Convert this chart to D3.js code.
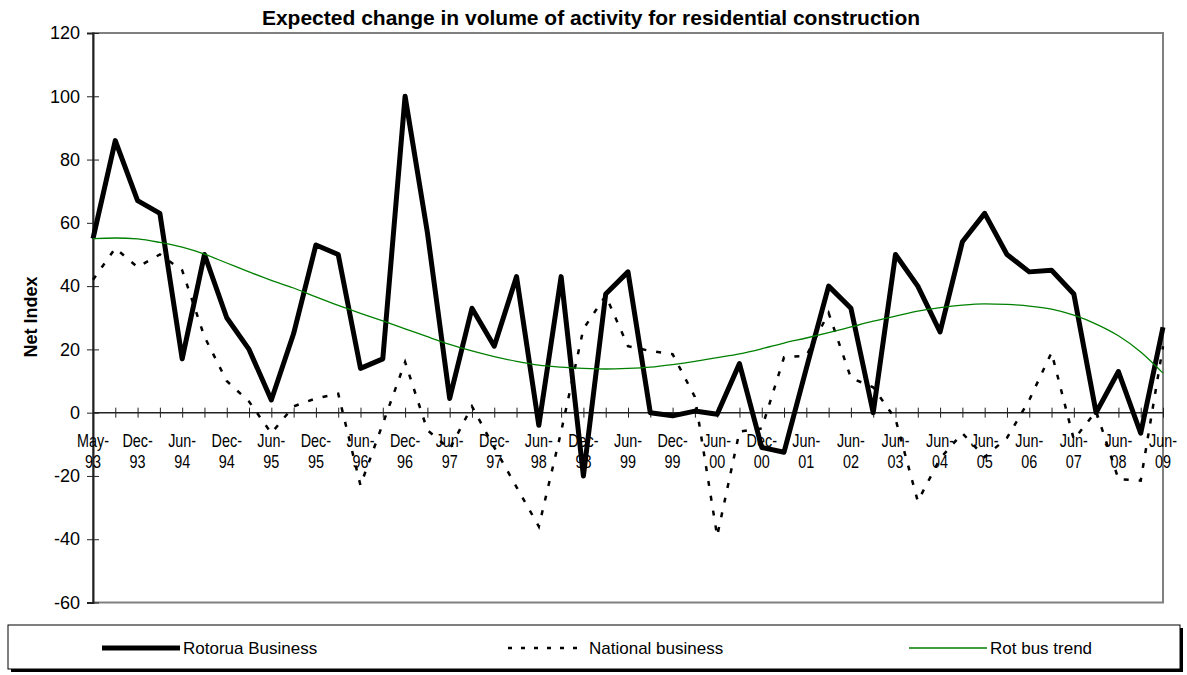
<!DOCTYPE html>
<html>
<head>
<meta charset="utf-8">
<script src="https://cdn.jsdelivr.net/npm/d3@7"></script>
<style>
body { margin: 0; background: #fff; }
svg { display: block; }
text { font-family: "Liberation Sans", Arial, sans-serif; fill: #000; }
</style>
</head>
<body>
<svg id="chart"></svg>
<script>
// survey dates (only every second one is labelled on the axis)
const categories = ["May-93","Sep-93","Dec-93","Mar-94","Jun-94","Sep-94","Dec-94","Mar-95","Jun-95","Sep-95",
  "Dec-95","Mar-96","Jun-96","Sep-96","Dec-96","Mar-97","Jun-97","Sep-97","Dec-97","Mar-98",
  "Jun-98","Sep-98","Dec-98","Mar-99","Jun-99","Sep-99","Dec-99","Mar-00","Jun-00","Sep-00",
  "Dec-00","Mar-01","Jun-01","Dec-01","Jun-02","Dec-02","Jun-03","Dec-03","Jun-04","Dec-04",
  "Jun-05","Dec-05","Jun-06","Dec-06","Jun-07","Dec-07","Jun-08","Dec-08","Jun-09"]

const rotorua = [55, 86, 67, 63, 17, 50, 30, 20, 4, 25,
  53, 50, 14, 17, 100, 57, 4.5, 33, 21, 43,
  -4, 43, -20, 37.5, 44.5, 0, -1, 0.5, -0.5, 15.5,
  -11, -12.5, 14, 40, 33, 0, 50, 40, 25.5, 54,
  63, 50, 44.5, 45, 37.5, 0, 13, -6.5, 27]

const national = [42, 52, 46, 50, 45, 24, 10, 3.5, -6.5, 2,
  4.5, 6, -23, -3.5, 16, -5.5, -11.5, 2, -11, -23.5,
  -36, -6, 26.5, 37, 21, 19.5, 18.5, 5, -39, -6,
  -5, 17.5, 18, 31.5, 11, 8, -2, -28, -14.5, -6.5,
  -14, -8, 4, 19, -8.5, 0.5, -21, -21.5, 21]

const trend = [55, 55.2, 54.9, 53.8, 52.3, 50.1, 47.3, 44.5, 41.8, 39.4,
  36.6, 33.9, 31.4, 29.0, 26.5, 24.0, 21.6, 19.5, 17.7, 16.2,
  15.0, 14.4, 14.0, 13.8, 14.0, 14.4, 15.2, 16.2, 17.4, 18.6,
  20.2, 22.0, 23.6, 25.3, 27.1, 28.9, 30.5, 32.1, 33.2, 34.0,
  34.4, 34.2, 33.7, 32.7, 30.8, 28.0, 24.3, 19.2, 12.5]

const yTicks = [-60, -40, -20, 0, 20, 40, 60, 80, 100, 120]
const seriesNames = ["Rotorua Business", "National business", "Rot bus trend"]

const width = 1187
const height = 675
const plotLeft = 93
const plotRight = 1163
const plotTop = 33
const plotBottom = 602.5

const svg = d3.select('#chart')
  .attr('width', width)
  .attr('height', height)

const x = d3.scalePoint().domain(categories).range([plotLeft, plotRight])
const y = d3.scaleLinear().domain([-60, 120]).range([plotBottom, plotTop])

// plot area frame
svg.append('rect')
  .attr('x', plotLeft).attr('y', plotTop)
  .attr('width', plotRight - plotLeft).attr('height', plotBottom - plotTop)
  .attr('fill', 'none')
  .attr('stroke', '#808080')
  .attr('stroke-width', 2)

// title
svg.append('text')
  .attr('x', 591).attr('y', 25)
  .attr('text-anchor', 'middle')
  .style('font-size', '21px')
  .style('font-weight', 'bold')
  .text('Expected change in volume of activity for residential construction')

// y axis
const yAxis = d3.axisLeft(y).tickValues(yTicks).tickSize(6).tickPadding(7).tickFormat(d => String(d))
const gy = svg.append('g')
  .attr('transform', `translate(${plotLeft},0)`)
  .call(yAxis)
gy.select('.domain').attr('stroke', '#222').attr('stroke-width', 2)
gy.selectAll('.tick line').attr('x1', 6).attr('stroke', '#222')
gy.selectAll('.tick text')
  .style('font-size', '18px')
  .style('font-family', '"Liberation Sans", Arial, sans-serif')

svg.append('text')
  .attr('transform', 'translate(37,317) rotate(-90)')
  .attr('text-anchor', 'middle')
  .style('font-size', '18px')
  .style('font-weight', 'bold')
  .text('Net Index')

// x axis through zero
const xAxis = d3.axisBottom(x).tickSize(5).tickFormat('')
const gx = svg.append('g')
  .attr('transform', `translate(0,${y(0)})`)
  .call(xAxis)
gx.select('.domain').attr('stroke', '#222').attr('stroke-width', 1.5).attr('d', `M${plotLeft},0H${plotRight}`)
gx.selectAll('.tick line').attr('y1', -5).attr('stroke', '#222')

// category labels, two lines, narrow
const xLabels = svg.append('g')
categories.forEach((c, i) => {
  if (i % 2) return
  const parts = c.split('-')
  const t = xLabels.append('text')
    .attr('transform', `translate(${x(c)},0) scale(0.8,1)`)
    .attr('text-anchor', 'middle')
    .style('font-size', '18px')
  t.append('tspan').attr('x', 0).attr('y', y(0) + 34).text(parts[0] + '-')
  t.append('tspan').attr('x', 0).attr('y', y(0) + 55.5).text(parts[1])
})

// series
const line = d3.line()
  .x((d, i) => x(categories[i]))
  .y(d => y(d))

svg.append('path').datum(rotorua)
  .attr('d', line)
  .attr('fill', 'none')
  .attr('stroke', '#000')
  .attr('stroke-width', 5)
  .attr('stroke-linejoin', 'round')

svg.append('path').datum(national)
  .attr('d', line)
  .attr('fill', 'none')
  .attr('stroke', '#000')
  .attr('stroke-width', 2.5)
  .attr('stroke-dasharray', '5,10')

svg.append('path').datum(trend)
  .attr('d', line.curve(d3.curveMonotoneX))
  .attr('fill', 'none')
  .attr('stroke', '#008000')
  .attr('stroke-width', 1.3)

// legend
svg.append('rect').attr('x', 11).attr('y', 628).attr('width', 1172).attr('height', 44).attr('fill', '#000')
svg.append('rect').attr('x', 8).attr('y', 625).attr('width', 1172).attr('height', 44)
  .attr('fill', '#fff').attr('stroke', '#000').attr('stroke-width', 1)

const legendItems = [
  {name: seriesNames[0], x0: 102, stroke: '#000', w: 5, dash: null},
  {name: seriesNames[1], x0: 508, stroke: '#000', w: 2.5, dash: '4,9'},
  {name: seriesNames[2], x0: 909, stroke: '#008000', w: 1.3, dash: null}
]
const legY = 648
legendItems.forEach(d => {
  svg.append('line')
    .attr('x1', d.x0).attr('x2', d.x0 + 78)
    .attr('y1', legY).attr('y2', legY)
    .attr('stroke', d.stroke)
    .attr('stroke-width', d.w)
    .attr('stroke-dasharray', d.dash)
  svg.append('text')
    .attr('x', d.x0 + 81).attr('y', legY + 6)
    .style('font-size', '17px')
    .text(d.name)
})
</script>
</body>
</html>
